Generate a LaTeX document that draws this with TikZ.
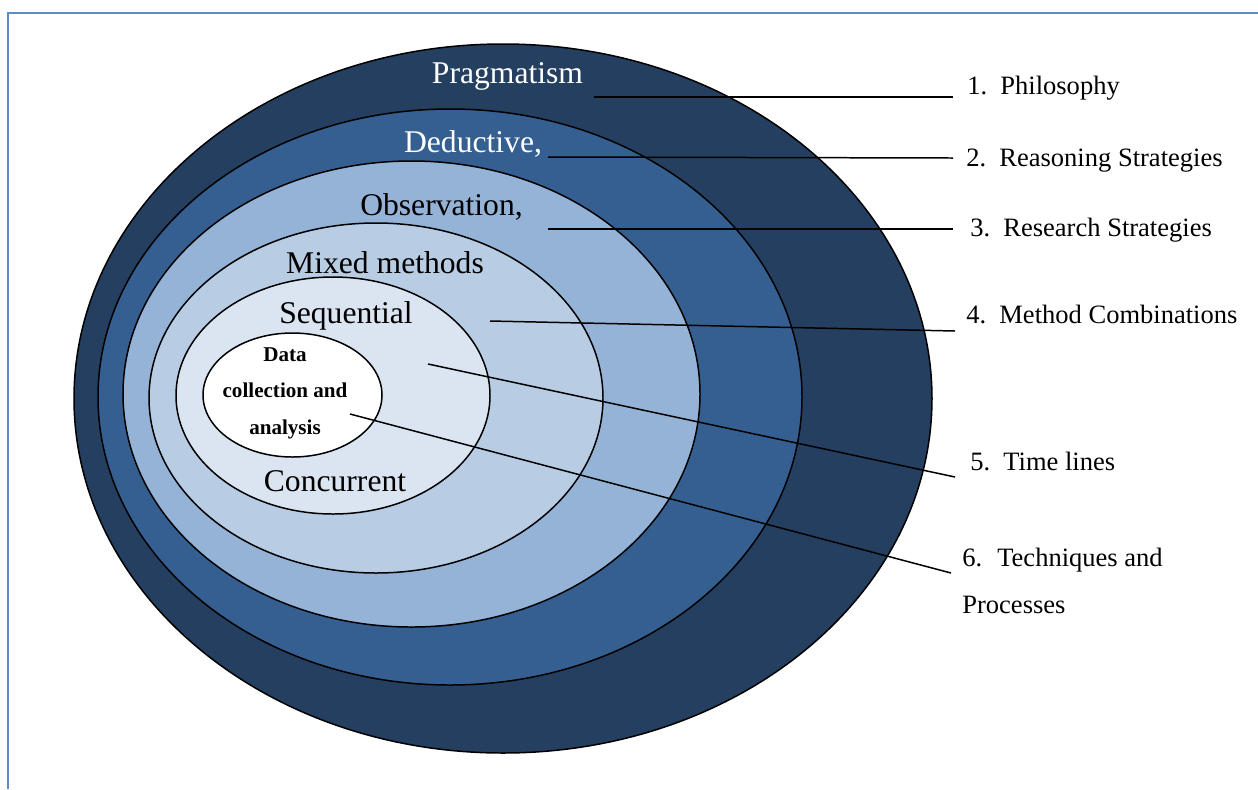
\documentclass[tikz,border=0pt]{standalone}
\usepackage{fontspec}
\setmainfont{Liberation Serif}
\usetikzlibrary{positioning}
\definecolor{navy}{HTML}{243F60}
\definecolor{mid}{HTML}{365F91}
\definecolor{sky}{HTML}{95B3D7}
\definecolor{light}{HTML}{B8CCE4}
\definecolor{pale}{HTML}{DBE5F1}
\definecolor{boxline}{HTML}{5B8BC8}
\newcommand{\numlabel}[2]{\makebox[18.8pt][l]{#1.}#2}

\begin{document}
\begin{tikzpicture}[x=0.02cm,y=-0.02cm,
    ring/.style={draw=black,line width=0.85pt},
    ringlabel/.style={anchor=base,inner sep=0pt,font=\fontsize{18}{21}\selectfont},
    sidelabel/.style={anchor=base west,inner sep=0pt,align=left,font=\fontsize{15.1}{26.2}\selectfont},
    leader/.style={line width=0.85pt}]
    \useasboundingbox (0,0) rectangle (1258,789);
    \draw[boxline,line width=1.1pt] (8,789) -- (8,13) -- (1258,13);
    % nested layers, outermost first
    \foreach \cx/\cy/\rx/\ry/\col in {503/398.5/429/354.5/navy,450/397/352/288/mid,411.5/394/288.5/233/sky,376/398/227/175/light,333/395.5/157/118.5/pale,292.5/395/89.5/62/white}
      \draw[ring,fill=\col] (\cx,\cy) ellipse [x radius=\rx, y radius=\ry];
    \node[ringlabel,text=white] (prag) at (507.5,83) {Pragmatism};
    \node[ringlabel,text=white] (ded) at (473,152) {Deductive,};
    \node[ringlabel] (obs) at (441.5,215) {Observation,};
    \node[ringlabel] (mix) at (385,273) {Mixed methods};
    \node[ringlabel] (seq) at (346,323) {Sequential};
    \node[ringlabel] (conc) at (335,491) {Concurrent};
    \node[align=center,inner sep=0pt,font=\fontsize{12}{20.8}\selectfont\bfseries] (data) at (285,393) {Data\\collection and\\analysis};
    % layer names on the right
    \node[sidelabel] (l1) at (967,94) {\numlabel{1}{Philosophy}};
    \node[sidelabel] (l2) at (966,166) {\numlabel{2}{Reasoning Strategies}};
    \node[sidelabel] (l3) at (970,236) {\numlabel{3}{Research Strategies}};
    \node[sidelabel] (l4) at (966,323) {\numlabel{4}{Method Combinations}};
    \node[sidelabel] (l5) at (970,470) {\numlabel{5}{Time lines}};
    \node[sidelabel] (l6) at (962,613) {\makebox[19.9pt][l]{6.}Techniques and\\Processes};
    \coordinate (s1) at (594,97);
    \coordinate (s2) at (548,157);
    \coordinate (s3) at (548,229);
    \coordinate (s4) at (490,321);
    \coordinate (s5) at (428,364);
    \coordinate (s6) at (350,414);
    \foreach \s/\l/\dx/\dy in {s1/l1/-14/3,s2/l2/-13/-8,s3/l3/-17/-7,s4/l4/-11/8,s5/l5/-15/7,s6/l6/-11/-40}
      \draw[leader] (\s) -- ([shift={(\dx,\dy)}]\l.base west);
\end{tikzpicture}
\end{document}
